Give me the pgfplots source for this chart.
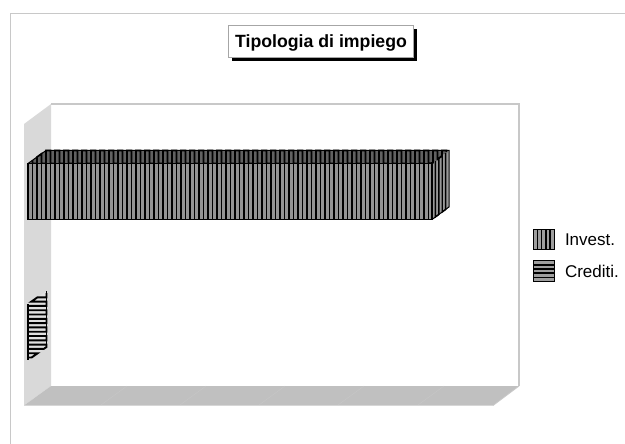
\documentclass[border=0pt]{standalone}
\usepackage{fontspec}
\setmainfont{Liberation Sans}
\usepackage{pgfplots}
\pgfplotsset{compat=1.18}
\definecolor{wallc}{HTML}{D9D9D9}
\definecolor{floorc}{HTML}{C0C0C0}
\definecolor{framec}{HTML}{C8C8C8}
% zigzag hatching of one face: name, x0, step, last index, ytop(\x), ybottom(\x)
\def\zigbuild#1#2#3#4#5#6{%
  \gdef\zigacc{}%
  \foreach \i in {0,...,#4}{%
    \pgfmathsetmacro\x{#2+#3*\i}%
    \pgfmathsetmacro\ya{#5}%
    \pgfmathsetmacro\yb{#6}%
    \ifodd\i\relax
      \xdef\zigacc{\zigacc (\x,\yb) (\x,\ya)}%
    \else
      \xdef\zigacc{\zigacc (\x,\ya) (\x,\yb)}%
    \fi
  }%
  \global\expandafter\let\csname #1\endcsname\zigacc
}
\zigbuild{zigfront}{32.5}{4.5}{88}{163.5}{219.5}
\zigbuild{zigtop}{32.5}{4.5}{92}{max(150.5,163.5-(\x-28)*13/18)}{min(163.5,163.5-(\x-432)*13/17)}
\zigbuild{zigside}{435.4}{3.4}{3}{163.5-(\x-432)*13/17}{219.5-(\x-432)*12.5/17}
\begin{document}
\begin{tikzpicture}
\begin{axis}[
  scale only axis, width=625pt, height=444pt,
  xmin=0, xmax=625, ymin=0, ymax=444, y dir=reverse,
  axis line style={draw=none}, ticks=none,
  clip=true,
  legend style={at={(axis cs:532.5,228.5)}, anchor=north west, draw=none, fill=none,
    font=\fontsize{17}{19}\selectfont, row sep=9.6pt, inner sep=0pt, outer sep=0pt},
  legend cell align=left,
]
% page frame
\addplot[forget plot, framec, line width=1.2pt] coordinates {(10.5,444) (10.5,13.5) (625,13.5)};
% left wall, floor, back wall
\addplot[forget plot, draw=none, fill=wallc] coordinates {(24,124) (51,104) (51,386) (24,405.5)} -- cycle;
\addplot[forget plot, draw=none, fill=floorc] coordinates {(51,386) (519,386) (493,405.5) (24,405.5)} -- cycle;
\addplot[forget plot, framec, line width=1.1pt] coordinates {(51,104) (519,104) (519,386)};
\addplot[forget plot, framec, line width=0.8pt] coordinates {(519,386) (493,405.5)};
% faint floor gridlines
\addplot[forget plot, draw=black!22, line width=0.4pt] coordinates {(101,405) (127,386)};
\addplot[forget plot, draw=black!22, line width=0.4pt] coordinates {(180,405) (206,386)};
\addplot[forget plot, draw=black!22, line width=0.4pt] coordinates {(259,405) (285,386)};
\addplot[forget plot, draw=black!22, line width=0.4pt] coordinates {(338,405) (364,386)};
\addplot[forget plot, draw=black!22, line width=0.4pt] coordinates {(418,405) (444,386)};
% Invest top and side faces
\addplot[forget plot, draw=none, fill=black!62] coordinates {(28,163.5) (46,150.5) (449,150.5) (432,163.5)} -- cycle;
\addplot[forget plot, draw=none, fill=black!40] coordinates {(432,163.5) (449,150.5) (449,207) (432,219.5)} -- cycle;
\edef\doplot{\noexpand\addplot[forget plot, black, line width=1.6pt, line join=miter] coordinates {\zigtop};}\doplot
\edef\doplot{\noexpand\addplot[forget plot, black, line width=1.4pt, line join=miter] coordinates {\zigside};}\doplot
\addplot[forget plot, draw=black, line width=1pt, line join=miter] coordinates {(28,163.5) (46,150.5) (449,150.5) (449,207) (432,219.5)};
% Invest front face
\addplot[draw=black, line width=1.2pt, fill=black!42,
  legend image code/.code={%
    \draw[black,line width=1.2pt,fill=black!38] (0pt,-10.3pt) rectangle (21pt,10.3pt);
    \foreach \q in {4.2,8.4,12.6,16.8}{\draw[black,line width=1.5pt] (\q pt,-10.3pt) -- (\q pt,10.3pt);}%
  },
  ] coordinates {(28,163.5) (432,163.5) (432,219.5) (28,219.5)} -- cycle;
\addlegendentry{\hspace{8pt}\raisebox{-1.2pt}{Invest.}}
\edef\doplot{\noexpand\addplot[forget plot, black, line width=1.7pt, line join=miter] coordinates {\zigfront};}\doplot
\addplot[forget plot, draw=black, line width=1.2pt, line join=miter] coordinates {(28,163.5) (432,163.5) (432,219.5) (28,219.5)} -- cycle;
% Crediti face
\addplot[draw=none, fill=black!12,
  legend image code/.code={%
    \draw[black,line width=1.2pt,fill=black!38] (0pt,-10.3pt) rectangle (21pt,10.3pt);
    \foreach \q in {-6.2,-2.1,2.1,6.2}{\draw[black,line width=1.5pt] (0pt,\q pt) -- (21pt,\q pt);}%
  },
  ] coordinates {(28,304) (46.5,291) (46.5,347) (28,360)} -- cycle;
\addlegendentry{\hspace{8pt}\raisebox{-1.2pt}{Crediti.}}
\addplot[forget plot, black, line width=1.9pt, line join=miter] coordinates {
  (46.5,293) (46.5,297.3) (37.5,297.3) (31.4,301.6) (46.5,301.6)
  (46.5,305.9) (28,305.9) (28,310.2) (46.5,310.2) (46.5,314.5) (28,314.5)
  (28,318.8) (46.5,318.8) (46.5,323.1) (28,323.1) (28,327.4) (46.5,327.4)
  (46.5,331.7) (28,331.7) (28,336) (46.5,336) (46.5,340.3) (28,340.3)
  (28,344.6) (46.5,344.6) (46.5,347) (43.8,348.9) (28,348.9) (28,353.2) (37.7,353.2)
  (31.6,357.5) (28,357.5)};
\addplot[forget plot, black, line width=1.4pt] coordinates {(28,304) (28,360)};
\addplot[forget plot, black, line width=1.4pt] coordinates {(46.5,291) (46.5,347)};
% Title box with shadow
\addplot[forget plot, draw=none, fill=black] coordinates {(232,29) (417,29) (417,61) (232,61)} -- cycle;
\addplot[forget plot, draw=black!35, line width=0.6pt, fill=white] coordinates {(228,25) (413,25) (413,57) (228,57)} -- cycle;
\node[font=\bfseries\fontsize{17.7}{20}\selectfont, anchor=center, inner sep=0pt] at (axis cs:321,42.5) {Tipologia di impiego};
\end{axis}
\end{tikzpicture}
\end{document}
